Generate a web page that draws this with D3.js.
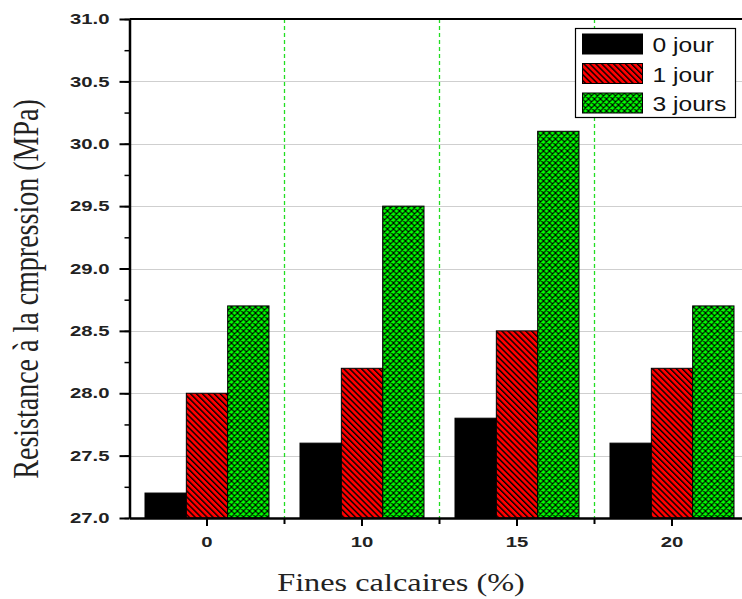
<!DOCTYPE html>
<html>
<head>
<meta charset="utf-8">
<script src="https://cdn.jsdelivr.net/npm/d3@7"></script>
<style>
    body { margin: 0; background: #fff; }
    svg { display: block; }
</style>
</head>
<body>
<svg id="chart" width="742" height="599"></svg>
<script>
// data
const categories = ["0", "10", "15", "20"];
const seriesNames = ["0 jour", "1 jour", "3 jours"];
const jour0 = [27.2, 27.6, 27.8, 27.6];
const jour1 = [28.0, 28.2, 28.5, 28.2];
const jours3 = [28.7, 29.5, 30.1, 28.7];
const yTickLabels = ["27.0", "27.5", "28.0", "28.5", "29.0", "29.5", "30.0", "30.5", "31.0"];

const seriesValues = [jour0, jour1, jours3];

//declare svg canvas
const margin = { top: 19, left: 129.5 };
const plotW = 620;
const plotH = 499;
// the original picture is stretched sideways, text follows that
const stretch = 1.4;

const svg = d3.select("#chart");

//patterns
const defs = svg.append("defs");
const red = defs.append("pattern")
    .attr("id", "hatchRed")
    .attr("patternUnits", "userSpaceOnUse")
    .attr("width", 4.2).attr("height", 4.2)
    .attr("patternTransform", "rotate(-45)");
red.append("rect").attr("width", 4.2).attr("height", 4.2).attr("fill", "#ff0000");
red.append("rect").attr("width", 1.4).attr("height", 4.2).attr("fill", "#000");

const green = defs.append("pattern")
    .attr("id", "crossGreen")
    .attr("patternUnits", "userSpaceOnUse")
    .attr("width", 6).attr("height", 6);
green.append("rect").attr("width", 6).attr("height", 6).attr("fill", "#00ff00");
green.append("path")
    .attr("d", "M0,0L6,6M6,0L0,6M-1,5L1,7M5,-1L7,1")
    .attr("stroke", "#000").attr("stroke-width", 1.2).attr("fill", "none");

const fills = ["#000", "url(#hatchRed)", "url(#crossGreen)"];

//scales
const x = d3.scaleBand()
    .domain(categories)
    .range([0, plotW]);
const xSub = d3.scaleBand()
    .domain(seriesNames)
    .range([x.step() * 0.1, x.step() * 0.9]);
const y = d3.scaleLinear()
    .domain([27, 31])
    .range([plotH, 0]);

const g = svg.append("g")
    .attr("transform", `translate(${margin.left}, ${margin.top})`);

//grid lines
g.append("g")
    .selectAll("line")
    .data(yTickLabels.slice(1, -1))
    .join("line")
    .attr("x1", 0).attr("x2", plotW)
    .attr("y1", d => Math.round(y(+d)) + 0.5)
    .attr("y2", d => Math.round(y(+d)) + 0.5)
    .attr("stroke", "#cfcfcf")
    .attr("stroke-width", 1.2);

//group separators
g.append("g")
    .selectAll("line")
    .data(categories.slice(0, -1))
    .join("line")
    .attr("x1", d => x(d) + x.step())
    .attr("x2", d => x(d) + x.step())
    .attr("y1", 0).attr("y2", plotH)
    .attr("stroke", "#22dd22")
    .attr("stroke-width", 1.3)
    .attr("stroke-dasharray", "4,3");

//bars
seriesNames.forEach((name, si) => {
    g.append("g")
        .selectAll("rect")
        .data(seriesValues[si])
        .join("rect")
        .attr("x", (d, i) => x(categories[i]) + xSub(name))
        .attr("y", d => y(d))
        .attr("width", xSub.bandwidth())
        .attr("height", d => y(27) - y(d))
        .attr("fill", fills[si])
        .attr("stroke", "#000")
        .attr("stroke-width", 1);
});

//frame top
g.append("line")
    .attr("x1", 0).attr("x2", plotW)
    .attr("y1", 0).attr("y2", 0)
    .attr("stroke", "#000").attr("stroke-width", 2);

//y axis
const yMinor = d3.range(27, 31.01, 0.25);
g.append("g")
    .call(d3.axisLeft(y).tickValues(yMinor).tickSize(5).tickFormat(""))
    .call(a => a.select(".domain").remove())
    .selectAll("line").attr("stroke-width", 1.5);

const yAxis = g.append("g")
    .attr("class", "y-axis")
    .call(d3.axisLeft(y)
        .tickValues(yTickLabels.map(Number))
        .tickFormat((d, i) => yTickLabels[i])
        .tickSize(10).tickPadding(9).tickSizeOuter(0));
yAxis.select(".domain").attr("stroke-width", 2.5);
yAxis.selectAll(".tick line").attr("stroke-width", 2);
yAxis.selectAll("text")
    .attr("x", -20 / stretch)
    .attr("transform", `scale(${stretch},1)`)
    .attr("font-family", "'Liberation Sans', Arial, sans-serif")
    .attr("font-weight", "bold")
    .attr("font-size", 14.5)
    .attr("fill", "#222");

//x axis
const xAxisG = g.append("g")
    .attr("transform", `translate(0, ${plotH})`);
xAxisG.append("g")
    .call(d3.axisBottom(x).tickValues(categories.slice(0, -1)).tickSize(6).tickFormat(""))
    .call(a => a.select(".domain").remove())
    .call(a => a.selectAll(".tick").attr("transform", d => `translate(${x(d) + x.step()},0)`))
    .selectAll("line").attr("stroke-width", 2);

const xAxis = xAxisG.append("g")
    .call(d3.axisBottom(x).tickSize(8).tickPadding(11).tickSizeOuter(0));
xAxis.select(".domain").attr("stroke-width", 2.5);
xAxis.selectAll(".tick line").attr("stroke-width", 2);
xAxis.selectAll("text")
    .attr("transform", `scale(${stretch},1)`)
    .attr("font-family", "'Liberation Sans', Arial, sans-serif")
    .attr("font-weight", "bold")
    .attr("font-size", 14.5)
    .attr("fill", "#222");

//axis titles
svg.append("text")
    .attr("transform", "translate(38, 289) scale(1.3,1) rotate(-90)")
    .attr("text-anchor", "middle")
    .attr("font-family", "'Liberation Serif', 'Times New Roman', serif")
    .attr("font-size", 28)
    .attr("fill", "#222")
    .text("Resistance à la cmpression (MPa)");

svg.append("text")
    .attr("transform", "translate(401, 591) scale(1.32,1)")
    .attr("text-anchor", "middle")
    .attr("font-family", "'Liberation Serif', 'Times New Roman', serif")
    .attr("font-size", 24.5)
    .attr("fill", "#222")
    .text("Fines calcaires (%)");

//legend
const legend = svg.append("g").attr("transform", "translate(575.5, 28.5)");
legend.append("rect")
    .attr("width", 160).attr("height", 89)
    .attr("fill", "#fff").attr("stroke", "#000").attr("stroke-width", 1.2);
const items = legend.selectAll("g.item")
    .data(seriesNames)
    .join("g")
    .attr("class", "item")
    .attr("transform", (d, i) => `translate(7, ${5.5 + i * 29.5})`);
items.append("rect")
    .attr("width", 60).attr("height", 20)
    .attr("fill", (d, i) => fills[i])
    .attr("stroke", "#000").attr("stroke-width", 1);
items.append("text")
    .attr("transform", "translate(70, 18) scale(1.2,1)")
    .attr("font-family", "'Liberation Sans', Arial, sans-serif")
    .attr("font-size", 20.5)
    .attr("fill", "#111")
    .text(d => d);
</script>
</body>
</html>
